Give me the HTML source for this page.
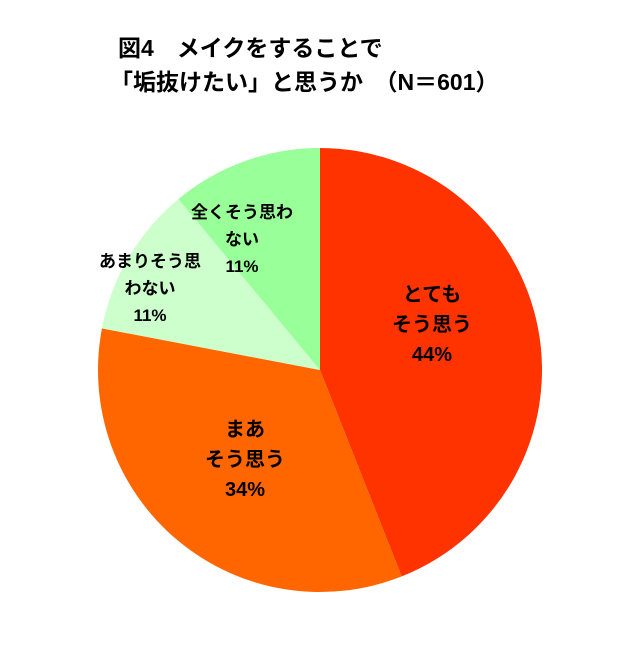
<!DOCTYPE html>
<html><head><meta charset="utf-8"><style>
body{margin:0;background:#fff;width:631px;height:640px;overflow:hidden}
text{font-family:"Liberation Sans","Noto Sans CJK JP",sans-serif}
</style></head><body>
<svg width="631" height="640">
<text x="118" y="56" font-size="23" font-weight="bold">図4　メイクをすることで</text>
<text x="110" y="90" font-size="23" font-weight="bold">「垢抜けたい」と思うか　（N＝601）</text>
<g id="slices"></g>
<g id="labels"></g>
</svg>
<script>
const categories=["とても\nそう思う","まあ\nそう思う","あまりそう思\nわない","全くそう思わ\nない"];
const values=[44,34,11,11];
const colors=["#FF3300","#FF6600","#CCFFCC","#99FF99"];
const labelPos=[[432,301,20],[245,436,20],[150,267,17],[242,218,17]];
const cx=320,cy=370,r=222;
const ns="http://www.w3.org/2000/svg";
const total=values.reduce((a,b)=>a+b,0);
let acc=0;
const sg=document.getElementById('slices'),lg=document.getElementById('labels');
function pt(f){const a=f*2*Math.PI;return [cx+r*Math.sin(a),cy-r*Math.cos(a)];}
values.forEach((v,i)=>{
 const f0=acc/total;acc+=v;const f1=acc/total;
 const p0=pt(f0),p1=pt(f1);
 const path=document.createElementNS(ns,'path');
 path.setAttribute('d',`M${cx},${cy}L${p0[0]},${p0[1]}A${r},${r} 0 ${(f1-f0)>0.5?1:0} 1 ${p1[0]},${p1[1]}Z`);
 path.setAttribute('fill',colors[i]);
 
 
 sg.appendChild(path);
 const lines=categories[i].split('\n').concat([v+'%']);
 const [lx,ly,fs]=labelPos[i];
 const t=document.createElementNS(ns,'text');
 
 
 t.setAttribute('text-anchor','middle');t.setAttribute('font-size',fs);t.setAttribute('font-weight','bold');
 lines.forEach((l,j)=>{const s=document.createElementNS(ns,'tspan');s.setAttribute('x',lx);s.setAttribute('y',ly+j*(fs+10));s.textContent=l;t.appendChild(s);});
 lg.appendChild(t);
});
</script>
</body></html>
